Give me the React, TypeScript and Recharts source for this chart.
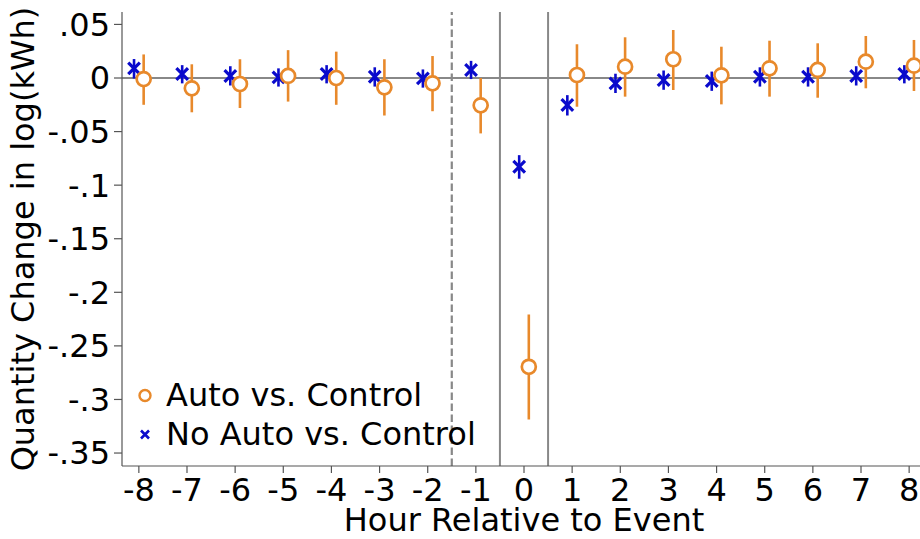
import React from 'react';
import {
  ComposedChart,
  Scatter,
  XAxis,
  YAxis,
  ErrorBar,
  ReferenceLine,
} from 'recharts';

const hours = [-8, -7, -6, -5, -4, -3, -2, -1, 0, 1, 2, 3, 4, 5, 6, 7, 8];

const autoEst = [-0.001, -0.0096, -0.0056, 0.0019, 0.0, -0.0087, -0.005, -0.0255, -0.2695, 0.0028, 0.0106, 0.0175, 0.0025, 0.009, 0.0075, 0.0152, 0.0115];
const autoLo = [-0.025, -0.032, -0.028, -0.022, -0.025, -0.035, -0.031, -0.0517, -0.3187, -0.0268, -0.0174, -0.0112, -0.0246, -0.0174, -0.0184, -0.0096, -0.0121];
const autoHi = [0.022, 0.0128, 0.0175, 0.026, 0.0246, 0.0175, 0.0205, 0.0, -0.2207, 0.0315, 0.038, 0.0448, 0.0292, 0.0348, 0.0324, 0.0392, 0.0355];

const noAutoEst = [0.009, 0.0037, 0.0019, 0.0006, 0.0037, 0.0012, -0.0003, 0.0075, -0.0828, -0.0252, -0.005, -0.0019, -0.0028, 0.0012, 0.0012, 0.0019, 0.0037];
const noAutoLo = [-0.0005, -0.005, -0.007, -0.008, -0.005, -0.008, -0.009, -0.001, -0.094, -0.035, -0.014, -0.011, -0.012, -0.008, -0.008, -0.007, -0.005];
const noAutoHi = [0.0177, 0.012, 0.011, 0.009, 0.012, 0.010, 0.008, 0.016, -0.072, -0.016, 0.004, 0.007, 0.006, 0.010, 0.010, 0.011, 0.012];

const yTicks = [0.05, 0, -0.05, -0.1, -0.15, -0.2, -0.25, -0.3, -0.35];
const yTickLabels = ['.05', '0', '-.05', '-.1', '-.15', '-.2', '-.25', '-.3', '-.35'];

const seriesNames = ['Auto vs. Control', 'No Auto vs. Control'];
const xLabel = 'Hour Relative to Event';
const yLabel = 'Quantity Change in log(kWh)';

const ORANGE = '#E8892B';
const BLUE = '#0A0ACC';
const GREY = '#888888';
const AXIS = '#555555';
const FONT = '"DejaVu Sans", sans-serif';
const FS = 32;

const autoData = hours.map((h, i) => ({
  x: h + 0.1,
  y: autoEst[i],
  err: [autoEst[i] - autoLo[i], autoHi[i] - autoEst[i]],
}));
const noAutoData = hours.map((h, i) => ({
  x: h - 0.1,
  y: noAutoEst[i],
  err: [noAutoEst[i] - noAutoLo[i], noAutoHi[i] - noAutoEst[i]],
}));

const CircleShape = (props: any) => {
  const { cx, cy } = props;
  if (cx == null || cy == null) return null;
  return <circle cx={cx} cy={cy} r={7} fill="#fff" stroke={ORANGE} strokeWidth={2.7} />;
};

const CrossShape = (props: any) => {
  const { cx, cy } = props;
  if (cx == null || cy == null) return null;
  const s = 5.8;
  return (
    <path
      d={`M${cx - s},${cy - s}L${cx + s},${cy + s}M${cx - s},${cy + s}L${cx + s},${cy - s}`}
      stroke={BLUE}
      strokeWidth={3.2}
      fill="none"
    />
  );
};

const LegendBox = () => (
  <div
    style={{
      position: 'absolute',
      left: 130,
      top: 375.5,
      fontFamily: FONT,
      fontSize: FS,
      color: '#000',
      pointerEvents: 'none',
    }}
  >
    <div style={{ display: 'flex', alignItems: 'center', height: 39 }}>
      <svg width={30} height={39} style={{ display: 'block' }}>
        <circle cx={15} cy={19.5} r={5.5} fill="#fff" stroke={ORANGE} strokeWidth={2.4} />
      </svg>
      <span style={{ marginLeft: 6, lineHeight: '39px', whiteSpace: 'nowrap' }}>{seriesNames[0]}</span>
    </div>
    <div style={{ display: 'flex', alignItems: 'center', height: 39 }}>
      <svg width={30} height={39} style={{ display: 'block' }}>
        <path d="M11,15.5L19,23.5M11,23.5L19,15.5" stroke={BLUE} strokeWidth={2.6} fill="none" />
      </svg>
      <span style={{ marginLeft: 6, lineHeight: '39px', whiteSpace: 'nowrap' }}>{seriesNames[1]}</span>
    </div>
  </div>
);

export default function App() {
  return (
    <div
      style={{
        position: 'fixed',
        left: 0,
        top: 0,
        width: 920,
        height: 539,
        overflow: 'hidden',
        background: '#fff',
      }}
    >
      <ComposedChart
        width={930}
        height={539}
        margin={{ top: 12, right: 4, bottom: 0, left: 0 }}
      >
        <XAxis
          type="number"
          dataKey="x"
          domain={[-8.35, 8.35]}
          ticks={hours}
          interval={0}
          allowDataOverflow
          height={73}
          axisLine={{ stroke: AXIS, strokeWidth: 1.2 }}
          tickLine={{ stroke: AXIS, strokeWidth: 1.2 }}
          tickSize={7}
          tickMargin={5}
          tick={{ fill: '#000', fontSize: FS, fontFamily: FONT }}
          label={(p: any) => {
            const vb = p.viewBox || {};
            const cx = (vb.x ?? 122) + (vb.width ?? 804) / 2;
            return (
              <text x={cx} y={531} textAnchor="middle" fontFamily={FONT} fontSize={FS} fill="#000">
                {xLabel}
              </text>
            );
          }}
        />
        <YAxis
          type="number"
          domain={[-0.3621, 0.0616]}
          ticks={yTicks}
          allowDataOverflow
          width={122}
          axisLine={{ stroke: AXIS, strokeWidth: 1.2 }}
          tickLine={{ stroke: AXIS, strokeWidth: 1.2 }}
          tickSize={8}
          tickMargin={4}
          interval={0}
          tick={{ fill: '#000', fontSize: FS, fontFamily: FONT }}
          tickFormatter={(v: number) => {
            const i = yTicks.findIndex((t) => Math.abs(t - v) < 1e-9);
            return i >= 0 ? yTickLabels[i] : String(v);
          }}
          label={() => (
            <text
              x={0}
              y={0}
              transform="translate(34,239) rotate(-90)"
              textAnchor="middle"
              fontFamily={FONT}
              fontSize={FS}
              fill="#000"
            >
              {yLabel}
            </text>
          )}
        />
        <ReferenceLine y={0} stroke={GREY} strokeWidth={2} />
        <ReferenceLine x={-1.5} stroke={GREY} strokeWidth={2.2} strokeDasharray="7.4 3.6" />
        <ReferenceLine x={-0.5} stroke={GREY} strokeWidth={2} />
        <ReferenceLine x={0.5} stroke={GREY} strokeWidth={2} />
        <Scatter
          name={seriesNames[1]}
          data={noAutoData}
          dataKey="y"
          shape={CrossShape}
          isAnimationActive={false}
        >
          <ErrorBar dataKey="err" direction="y" width={0} stroke={BLUE} strokeWidth={2.6} />
        </Scatter>
        <Scatter
          name={seriesNames[0]}
          data={autoData}
          dataKey="y"
          shape={CircleShape}
          isAnimationActive={false}
        >
          <ErrorBar dataKey="err" direction="y" width={0} stroke={ORANGE} strokeWidth={2.6} />
        </Scatter>
      </ComposedChart>
      <LegendBox />
    </div>
  );
}
